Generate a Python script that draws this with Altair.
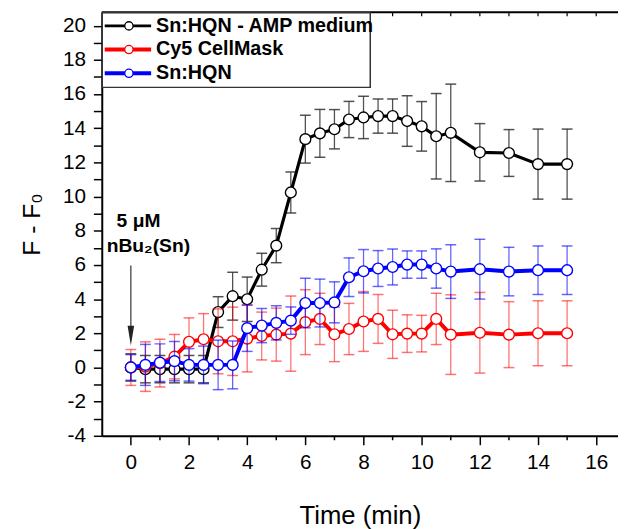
import altair as alt
import pandas as pd

# ---- data ----
times = [0, 0.5, 1, 1.5, 2, 2.5, 3, 3.5, 4, 4.5, 5, 5.5, 6, 6.5, 7, 7.5,
         8, 8.5, 9, 9.5, 10, 10.5, 11, 12, 13, 14, 15]

series_names = ["Sn:HQN - AMP medium", "Cy5 CellMask", "Sn:HQN"]
series_colors = ["#000000", "#ff0000", "#0000ff"]

amp_vals = [0, -0.1, -0.1, -0.1, -0.1, -0.1, 3.24, 4.17, 3.99, 5.72, 7.13, 10.24,
            13.36, 13.70, 13.94, 14.51, 14.63, 14.71, 14.71, 14.42, 14.11, 13.53,
            13.73, 12.59, 12.55, 11.90, 11.90]
amp_err = [0.8, 0.8, 0.8, 0.8, 0.8, 0.8, 0.9, 1.4, 1.3, 0.96, 1.0, 1.2,
           1.4, 1.4, 1.15, 1.06, 1.24, 1.0, 1.0, 1.48, 1.45, 2.5,
           2.85, 1.68, 1.37, 2.05, 2.05]

cy5_vals = [0, 0.05, 0.25, 0.63, 1.5, 1.65, 1.53, 1.53, 1.69, 1.84, 1.92, 1.98,
            2.65, 2.84, 1.94, 2.25, 2.69, 2.84, 1.94, 1.98, 1.98, 2.84,
            1.92, 2.03, 1.92, 2.0, 2.0]
cy5_err = [1.05, 1.45, 1.4, 1.3, 1.4, 1.5, 1.9, 2.0, 1.95, 1.4, 1.55, 2.2,
           1.9, 1.5, 1.6, 1.5, 1.75, 1.43, 1.41, 1.1, 1.07, 1.5,
           2.33, 2.36, 1.93, 1.9, 1.9]

hqn_vals = [0, 0.15, 0.28, 0.37, 0.15, 0.15, 0.15, 0.15, 2.30, 2.45, 2.61, 2.74,
            3.77, 3.77, 3.81, 5.28, 5.63, 5.79, 5.88, 6.02, 6.02, 5.79,
            5.61, 5.75, 5.61, 5.69, 5.69]
hqn_err = [0.75, 1.2, 1.1, 1.15, 0.95, 1.1, 1.45, 1.4, 1.36, 1.0, 1.0, 0.8,
           1.45, 1.4, 1.2, 1.13, 1.27, 1.05, 1.05, 0.8, 0.8, 1.15,
           1.57, 1.75, 1.42, 1.42, 1.42]

x_major = [0, 2, 4, 6, 8, 10, 12, 14, 16]
x_minor = [1, 3, 5, 7, 9, 11, 13, 15]
x_top = list(range(0, 17))
y_ticks = list(range(-4, 21))

annot_lines = ["5 μM", "nBu₂(Sn)"]

# ---- geometry / style ----
W, H = 523, 429
FONT = "Liberation Sans"
XDOM = [-1, 16.75]
YDOM = [-4, 20.78]

frames = []
for name, vals, errs in [(series_names[0], amp_vals, amp_err),
                         (series_names[1], cy5_vals, cy5_err),
                         (series_names[2], hqn_vals, hqn_err)]:
    d = pd.DataFrame({"t": times, "v": vals, "e": errs})
    d["lo"] = d["v"] - d["e"]
    d["hi"] = d["v"] + d["e"]
    d["series"] = name
    frames.append(d)

xscale = alt.Scale(domain=XDOM, nice=False, zero=False)
yscale = alt.Scale(domain=YDOM, nice=False, zero=False)

xaxis = alt.Axis(values=x_major, title="Time (min)", tickSize=9, tickWidth=1.5,
                 tickColor="black", domainColor="black", domainWidth=2,
                 labelExpr="'' + datum.value",
                 labelFontSize=21, labelFont=FONT, labelColor="black", labelPadding=7,
                 titleFontSize=26, titleFont=FONT, titleFontWeight="normal",
                 titleColor="black", titlePadding=31, grid=False, labelFlush=False)
yaxis = alt.Axis(values=y_ticks, title="F - F₀", tickSize=8.5, tickWidth=1.5,
                 tickColor="black", domainColor="black", domainWidth=2,
                 labelExpr="datum.value % 2 === 0 ? '' + datum.value : ''",
                 labelFontSize=21, labelFont=FONT, labelColor="black", labelPadding=8,
                 titleFontSize=25, titleFont=FONT, titleFontWeight="normal",
                 titleColor="black", titlePadding=18, grid=False, labelFlush=False)

X = alt.X("t:Q", scale=xscale, axis=xaxis)
Y = alt.Y("v:Q", scale=yscale, axis=yaxis)

layers = []
bar_styles = {series_names[0]: ("#333333", 0.85),
              series_names[1]: ("#ff0000", 0.55),
              series_names[2]: ("#0000ff", 0.6)}
line_widths = {series_names[0]: 3.2, series_names[1]: 4, series_names[2]: 4}

for d, col in zip(frames, series_colors):
    name = d["series"].iloc[0]
    bcol, bop = bar_styles[name]
    base = alt.Chart(d)
    layers.append(base.mark_rule(color=bcol, opacity=bop, strokeWidth=1.3).encode(
        x=X, y=alt.Y("lo:Q", scale=yscale, axis=yaxis), y2="hi:Q"))
    layers.append(base.mark_tick(color=bcol, opacity=bop, orient="horizontal",
                                 size=11, thickness=1.5).encode(
        x=X, y=alt.Y("lo:Q", scale=yscale, axis=yaxis)))
    layers.append(base.mark_tick(color=bcol, opacity=bop, orient="horizontal",
                                 size=11, thickness=1.5).encode(
        x=X, y=alt.Y("hi:Q", scale=yscale, axis=yaxis)))
    layers.append(base.mark_line(color=col, strokeWidth=line_widths[name]).encode(x=X, y=Y))
    layers.append(base.mark_point(shape="circle", filled=True, fill="white", stroke=col,
                                  strokeWidth=1.4, size=120, opacity=1).encode(x=X, y=Y))

# frame on top with inward ticks, minor ticks at bottom
top_df = pd.DataFrame({"t": x_top})
layers.append(alt.Chart(top_df).mark_rule(color="black", strokeWidth=1.2).encode(
    x=alt.X("t:Q", scale=xscale, axis=xaxis), y=alt.value(0), y2=alt.value(4)))
minor_df = pd.DataFrame({"t": x_minor})
layers.append(alt.Chart(minor_df).mark_rule(color="black", strokeWidth=1.5).encode(
    x=alt.X("t:Q", scale=xscale, axis=xaxis), y=alt.value(H), y2=alt.value(H + 4.5)))
layers.append(alt.Chart(top_df.head(1)).mark_rule(color="black", strokeWidth=2).encode(
    x=alt.value(0), x2=alt.value(W), y=alt.value(0)))

# annotation with arrow
ann_df = pd.DataFrame({"t": [-0.49, -0.83], "v": [8.2, 6.76], "txt": annot_lines})
layers.append(alt.Chart(ann_df).mark_text(align="left", baseline="alphabetic", font=FONT,
                                          fontSize=19.5, fontWeight="bold", color="black").encode(
    x=alt.X("t:Q", scale=xscale, axis=xaxis), y=alt.Y("v:Q", scale=yscale, axis=yaxis),
    text="txt:N"))
arrow_df = pd.DataFrame({"t": [0], "v": [5.97], "v2": [1.9], "vh": [1.86]})
layers.append(alt.Chart(arrow_df).mark_rule(color="#333333", strokeWidth=1.2).encode(
    x=alt.X("t:Q", scale=xscale, axis=xaxis), y=alt.Y("v:Q", scale=yscale, axis=yaxis),
    y2="v2:Q"))
layers.append(alt.Chart(arrow_df).mark_point(shape="M-0.33,-1L0.33,-1L0,1Z", filled=True,
                                             color="#222222", size=400, opacity=1).encode(
    x=alt.X("t:Q", scale=xscale, axis=xaxis), y=alt.Y("vh:Q", scale=yscale, axis=yaxis)))

# legend (manual)
leg_df = pd.DataFrame({"label": series_names, "color": series_colors,
                       "ly": [13.7, 37.7, 61.7], "sw": [3, 4, 4]})
layers.append(alt.Chart(leg_df.head(1)).mark_rect(fill="white", stroke="#333333",
                                                  strokeWidth=1.5).encode(
    x=alt.value(0.5), x2=alt.value(272), y=alt.value(0.5), y2=alt.value(76)))
legbase = alt.Chart(leg_df)
layers.append(legbase.mark_rule().encode(
    x=alt.value(3), x2=alt.value(50), y=alt.Y("ly:Q", scale=None),
    color=alt.Color("color:N", scale=None), strokeWidth=alt.StrokeWidth("sw:Q", scale=None)))
layers.append(legbase.mark_point(shape="circle", filled=True, fill="white", strokeWidth=1.3,
                                 size=70, opacity=1).encode(
    x=alt.value(27.5), y=alt.Y("ly:Q", scale=None),
    stroke=alt.Stroke("color:N", scale=None)))
layers.append(legbase.mark_text(align="left", baseline="middle", font=FONT, fontSize=20,
                                fontWeight="bold", color="black").encode(
    x=alt.value(55), y=alt.Y("ly:Q", scale=None), text="label:N"))

chart = alt.layer(*layers).properties(
    width=W, height=H,
    autosize=alt.AutoSizeParams(type="none"),
    padding={"left": 95, "top": 1, "right": 0, "bottom": 91},
    background="white",
).configure_view(stroke=None)

chart.save("out.html", embed_options={"renderer": "svg", "actions": False})
